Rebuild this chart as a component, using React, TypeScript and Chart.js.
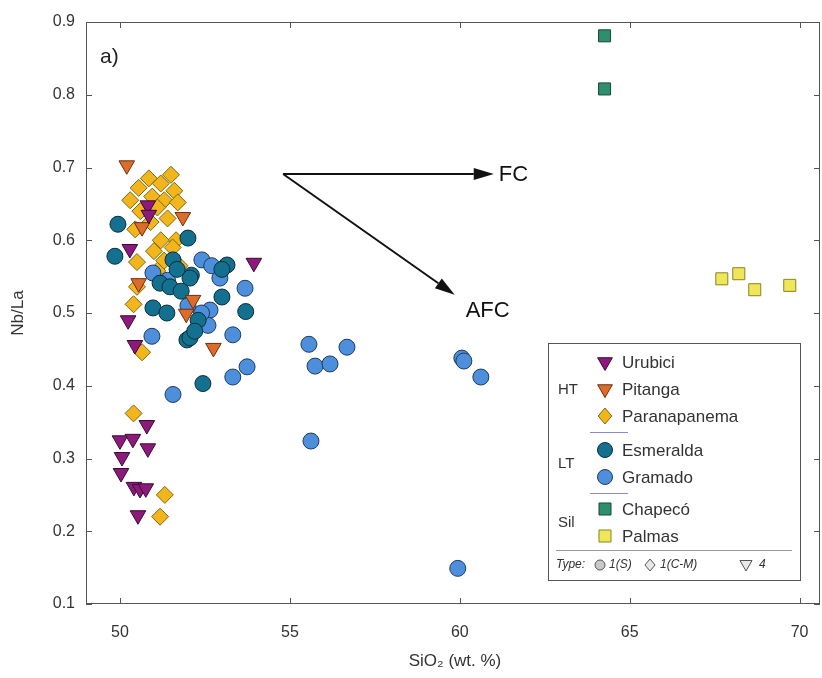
import React, { useEffect, useRef } from "react";
import { Chart, registerables } from "chart.js";

Chart.register(...registerables);

// ---------- data ----------
const xTickValues = [50, 55, 60, 65, 70];
const yTickValues = [0.1, 0.2, 0.3, 0.4, 0.5, 0.6, 0.7, 0.8, 0.9];

const urubiciX = [53.94, 50.82, 50.85, 50.29, 50.24, 50.44, 50.79, 50.0, 50.38, 50.82, 50.06, 50.03, 50.41, 50.59, 50.76, 50.53];
const urubiciY = [0.569, 0.648, 0.635, 0.588, 0.49, 0.456, 0.346, 0.325, 0.327, 0.314, 0.302, 0.28, 0.261, 0.258, 0.259, 0.222];

const pitangaX = [50.2, 51.85, 50.55, 52.15, 51.95, 52.75, 50.65];
const pitangaY = [0.703, 0.632, 0.541, 0.518, 0.499, 0.452, 0.618];

const paranapanemaX = [50.3, 50.55, 50.85, 51.2, 51.5, 51.6, 50.95, 51.3, 50.6, 51.1, 51.7, 50.45, 50.9, 51.4, 51.65, 51.55, 50.5, 51.0, 51.3, 50.5, 50.4, 51.1, 51.75, 50.65, 50.4, 51.32, 51.18, 51.2];
const paranapanemaY = [0.655, 0.672, 0.685, 0.678, 0.69, 0.668, 0.66, 0.655, 0.64, 0.645, 0.652, 0.615, 0.625, 0.63, 0.6, 0.59, 0.57, 0.585, 0.572, 0.536, 0.512, 0.558, 0.565, 0.446, 0.362, 0.25, 0.22, 0.6];

const esmeraldaX = [49.94, 52.0, 52.1, 53.15, 53.0, 53.7, 51.18, 51.56, 51.97, 52.44, 49.85, 50.97, 51.38, 51.47, 52.06, 52.06, 51.68, 52.3, 52.2, 53.0, 51.8];
const esmeraldaY = [0.622, 0.603, 0.552, 0.566, 0.522, 0.502, 0.541, 0.573, 0.463, 0.403, 0.578, 0.507, 0.5, 0.536, 0.466, 0.548, 0.56, 0.49, 0.475, 0.56, 0.53];

const gramadoX = [51.56, 52.41, 52.7, 52.94, 53.68, 50.97, 52.65, 52.59, 53.32, 53.74, 53.32, 50.94, 52.4, 52.0, 51.4, 55.56, 55.74, 56.18, 56.68, 55.62, 60.06, 60.12, 60.62, 59.94];
const gramadoY = [0.388, 0.573, 0.565, 0.548, 0.534, 0.555, 0.504, 0.483, 0.47, 0.426, 0.412, 0.468, 0.5, 0.51, 0.545, 0.457, 0.427, 0.43, 0.453, 0.324, 0.438, 0.434, 0.412, 0.149];

const chapecoX = [64.26, 64.26];
const chapecoY = [0.881, 0.808];

const palmasX = [67.71, 68.21, 68.68, 69.71];
const palmasY = [0.547, 0.554, 0.532, 0.538];

// arrows (data units)
const arrowStart = [54.8, 0.691];
const fcEnd = [61.0, 0.691];
const afcEnd = [59.85, 0.525];

// ---------- styles ----------
const FONT = "'Liberation Sans', Arial, sans-serif";
const styles = {
  Urubici: { fill: "#8c1a7c", stroke: "#3a0a30", kind: "tri" },
  Pitanga: { fill: "#dd6b2a", stroke: "#6a3010", kind: "tri" },
  Paranapanema: { fill: "#f2b51c", stroke: "#7a6a10", kind: "dia" },
  Esmeralda: { fill: "#13708e", stroke: "#0a2e3a", kind: "circ" },
  Gramado: { fill: "#4e8fdc", stroke: "#1e3a60", kind: "circ" },
  "Chapecó": { fill: "#2e8e6e", stroke: "#164a38", kind: "sq" },
  Palmas: { fill: "#f0e65a", stroke: "#8a8420", kind: "sq" },
};

function zip(xs: number[], ys: number[]) {
  return xs.map((x, i) => ({ x, y: ys[i] }));
}

function drawMarker(ctx: CanvasRenderingContext2D, kind: string, x: number, y: number, r: number, fill: string, stroke: string) {
  ctx.save();
  ctx.beginPath();
  if (kind === "circ") {
    ctx.arc(x, y, r, 0, Math.PI * 2);
  } else if (kind === "tri") {
    ctx.moveTo(x - r * 0.866, y - r * 0.5);
    ctx.lineTo(x + r * 0.866, y - r * 0.5);
    ctx.lineTo(x, y + r);
    ctx.closePath();
  } else if (kind === "dia") {
    ctx.moveTo(x, y - r);
    ctx.lineTo(x + r * 0.85, y);
    ctx.lineTo(x, y + r);
    ctx.lineTo(x - r * 0.85, y);
    ctx.closePath();
  } else {
    const s = r * 0.707;
    ctx.rect(x - s, y - s, 2 * s, 2 * s);
  }
  ctx.fillStyle = fill;
  ctx.fill();
  ctx.strokeStyle = stroke;
  ctx.lineWidth = 1;
  ctx.stroke();
  ctx.restore();
}

function makeDataset(name: string, xs: number[], ys: number[]) {
  const st = (styles as any)[name];
  const base: any = {
    label: name,
    data: zip(xs, ys),
    backgroundColor: st.fill,
    borderColor: st.stroke,
    borderWidth: 1,
    showLine: false,
  };
  if (st.kind === "tri") {
    base.pointStyle = "triangle";
    base.rotation = 180;
    base.pointRadius = 9;
  } else if (st.kind === "dia") {
    base.pointStyle = "rectRot";
    base.pointRadius = 8.5;
  } else if (st.kind === "sq") {
    base.pointStyle = "rect";
    base.pointRadius = 8.5;
  } else {
    base.pointStyle = "circle";
    base.pointRadius = 8;
  }
  base.pointHoverRadius = base.pointRadius;
  return base;
}

function arrow(ctx: CanvasRenderingContext2D, x0: number, y0: number, x1: number, y1: number) {
  const ang = Math.atan2(y1 - y0, x1 - x0);
  const len = 20;
  const w = 6;
  const bx = x1 - len * Math.cos(ang);
  const by = y1 - len * Math.sin(ang);
  ctx.beginPath();
  ctx.moveTo(x0, y0);
  ctx.lineTo(bx, by);
  ctx.strokeStyle = "#111";
  ctx.lineWidth = 2;
  ctx.stroke();
  ctx.beginPath();
  ctx.moveTo(x1, y1);
  ctx.lineTo(bx - w * Math.sin(ang), by + w * Math.cos(ang));
  ctx.lineTo(bx + w * Math.sin(ang), by - w * Math.cos(ang));
  ctx.closePath();
  ctx.fillStyle = "#111";
  ctx.fill();
}

const framePlugin = {
  id: "frame",
  beforeDatasetsDraw(chart: any) {
    const { ctx, chartArea: a, scales } = chart;
    ctx.save();
    ctx.strokeStyle = "#555";
    ctx.lineWidth = 1;
    ctx.strokeRect(a.left + 0.5, a.top + 0.5, a.right - a.left - 1, a.bottom - a.top - 1);
    const t = 6;
    ctx.beginPath();
    xTickValues.forEach((v) => {
      const px = Math.round(scales.x.getPixelForValue(v)) + 0.5;
      ctx.moveTo(px, a.bottom);
      ctx.lineTo(px, a.bottom - t);
      ctx.moveTo(px, a.top);
      ctx.lineTo(px, a.top + t);
    });
    yTickValues.forEach((v) => {
      const py = Math.round(scales.y.getPixelForValue(v)) + 0.5;
      ctx.moveTo(a.left, py);
      ctx.lineTo(a.left + t, py);
      ctx.moveTo(a.right, py);
      ctx.lineTo(a.right - t, py);
    });
    ctx.stroke();
    // x tick labels
    ctx.fillStyle = "#333";
    ctx.font = `16px ${FONT}`;
    ctx.textAlign = "center";
    ctx.textBaseline = "middle";
    xTickValues.forEach((v) => {
      ctx.fillText(String(v), scales.x.getPixelForValue(v), a.bottom + 29);
    });
    ctx.restore();
  },
  afterDraw(chart: any) {
    const { ctx, chartArea: a, scales } = chart;
    const X = (v: number) => scales.x.getPixelForValue(v);
    const Y = (v: number) => scales.y.getPixelForValue(v);
    ctx.save();
    // arrows
    arrow(ctx, X(arrowStart[0]), Y(arrowStart[1]), X(fcEnd[0]), Y(fcEnd[1]));
    arrow(ctx, X(arrowStart[0]), Y(arrowStart[1]), X(afcEnd[0]), Y(afcEnd[1]));
    ctx.fillStyle = "#111";
    ctx.font = `22px ${FONT}`;
    ctx.textBaseline = "middle";
    ctx.textAlign = "left";
    ctx.fillText("FC", X(fcEnd[0]) + 5, Y(fcEnd[1]) + 1);
    ctx.fillText("AFC", X(afcEnd[0]) + 11, Y(afcEnd[1]) + 16);
    // panel label
    ctx.font = `21px ${FONT}`;
    ctx.fillStyle = "#222";
    ctx.fillText("a)", a.left + 14, a.top + 35);

    // axis titles
    ctx.fillStyle = "#333";
    ctx.font = `17px ${FONT}`;
    ctx.textAlign = "center";
    ctx.fillText("SiO\u2082 (wt. %)", (a.left + a.right) / 2 + 2, 661);
    ctx.save();
    ctx.translate(18, (a.top + a.bottom) / 2);
    ctx.rotate(-Math.PI / 2);
    ctx.fillText("Nb/La", 0, 0);
    ctx.restore();

    // legend
    const lx = 548, ly = 343, lw = 252, lh = 237;
    ctx.fillStyle = "#fff";
    ctx.fillRect(lx, ly, lw, lh);
    ctx.strokeStyle = "#555";
    ctx.lineWidth = 1;
    ctx.strokeRect(lx + 0.5, ly + 0.5, lw, lh);
    const rows: [string, number][] = [
      ["Urubici", 362],
      ["Pitanga", 389],
      ["Paranapanema", 416],
      ["Esmeralda", 450],
      ["Gramado", 477],
      ["Chapecó", 509],
      ["Palmas", 536],
    ];
    ctx.textAlign = "left";
    ctx.textBaseline = "middle";
    rows.forEach(([name, y]) => {
      const st = (styles as any)[name];
      const r = st.kind === "tri" ? 8.5 : st.kind === "dia" ? 8 : st.kind === "sq" ? 8.5 : 7.5;
      drawMarker(ctx, st.kind, 605, y, r, st.fill, st.stroke);
      ctx.fillStyle = "#333";
      ctx.font = `17px ${FONT}`;
      ctx.fillText(name, 622, y + 1);
    });
    ctx.font = `15px ${FONT}`;
    ctx.fillStyle = "#333";
    ctx.fillText("HT", 558, 390);
    ctx.fillText("LT", 558, 464);
    ctx.fillText("Sil", 558, 523);
    // separators
    ctx.strokeStyle = "#8a8ad0";
    ctx.beginPath();
    ctx.moveTo(590, 432.5);
    ctx.lineTo(628, 432.5);
    ctx.moveTo(590, 493.5);
    ctx.lineTo(628, 493.5);
    ctx.stroke();
    ctx.strokeStyle = "#999";
    ctx.beginPath();
    ctx.moveTo(556, 550.5);
    ctx.lineTo(792, 550.5);
    ctx.stroke();
    // type line
    ctx.font = `italic 12px ${FONT}`;
    ctx.fillStyle = "#333";
    ctx.fillText("Type:", 556, 565);
    drawMarker(ctx, "circ", 600, 565, 5, "#c8c8c8", "#555");
    ctx.fillText("1(S)", 609, 565);
    drawMarker(ctx, "dia", 650, 565, 6, "#e8e8e8", "#555");
    ctx.fillText("1(C-M)", 660, 565);
    drawMarker(ctx, "tri", 746, 564, 7, "#e8e8e8", "#555");
    ctx.fillText("4", 759, 565);
    ctx.restore();
  },
};

export default function App() {
  const ref = useRef<HTMLCanvasElement | null>(null);
  useEffect(() => {
    if (!ref.current) return;
    const chart = new Chart(ref.current, {
      type: "scatter",
      data: {
        datasets: [
          makeDataset("Urubici", urubiciX, urubiciY),
          makeDataset("Pitanga", pitangaX, pitangaY),
          makeDataset("Esmeralda", esmeraldaX, esmeraldaY),
          makeDataset("Gramado", gramadoX, gramadoY),
          makeDataset("Paranapanema", paranapanemaX, paranapanemaY),
          makeDataset("Chapecó", chapecoX, chapecoY),
          makeDataset("Palmas", palmasX, palmasY),
        ],
      },
      options: {
        animation: false,
        responsive: false,
        maintainAspectRatio: false,
        layout: { autoPadding: false, padding: { left: 0, top: 22, right: 2, bottom: 0 } },
        plugins: { legend: { display: false }, tooltip: { enabled: false } },
        scales: {
          x: {
            type: "linear",
            min: 49,
            max: 70.6,
            afterBuildTicks: (s: any) => {
              s.ticks = xTickValues.map((v) => ({ value: v }));
            },
            afterFit: (s: any) => {
              s.height = 74;
            },
            grid: { display: false, drawTicks: false },
            border: { display: false },
            ticks: { display: false },
          },
          y: {
            type: "linear",
            min: 0.1,
            max: 0.9,
            afterBuildTicks: (s: any) => {
              s.ticks = yTickValues.map((v) => ({ value: v }));
            },
            afterFit: (s: any) => {
              s.width = 86;
            },
            grid: { display: false, drawTicks: false },
            border: { display: false },
            ticks: {
              padding: 11,
              color: "#333",
              font: { family: FONT, size: 16 },
              callback: (v: any) => Number(v).toFixed(1),
            },
          },
        },
      } as any,
      plugins: [framePlugin],
    });
    return () => chart.destroy();
  }, []);
  return (
    <div style={{ position: "absolute", left: 0, top: 0, width: 822, height: 678, background: "#fff" }}>
      <canvas ref={ref} width={822} height={678} style={{ display: "block", width: 822, height: 678 }} />
    </div>
  );
}
